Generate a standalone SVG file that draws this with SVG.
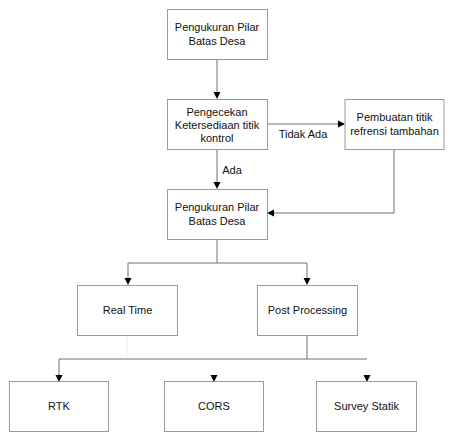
<svg xmlns="http://www.w3.org/2000/svg" width="454" height="437" viewBox="0 0 454 437">
<style>
.box{fill:#fff;stroke:#9a9a9a;stroke-width:1}
.con{fill:none;stroke:#707070;stroke-width:1}
text{font-family:"Liberation Sans",Arial,sans-serif;font-size:11px;fill:#111;text-anchor:middle}
</style>
<defs>
<path id="ah" d="M-3.5,-7 L3.5,-7 L0,0 Z" fill="#000"/>
</defs>
<rect width="454" height="437" fill="#fff"/>
<g id="connectors">
<line class="con" x1="217" y1="59" x2="217" y2="94"/>
<use href="#ah" x="217" y="99"/>
<line class="con" x1="267" y1="124" x2="340" y2="124"/>
<use href="#ah" transform="translate(345,124) rotate(-90)"/>
<text x="303" y="138">Tidak Ada</text>
<line class="con" x1="217" y1="149" x2="217" y2="184"/>
<use href="#ah" x="217" y="189"/>
<text x="232" y="174">Ada</text>
<polyline class="con" points="394,149 394,213 272,213"/>
<use href="#ah" transform="translate(267,213) rotate(90)"/>
<line class="con" x1="217" y1="239" x2="217" y2="263"/>
<polyline class="con" points="128,280 128,263 307,263 307,280"/>
<use href="#ah" x="128" y="285"/>
<use href="#ah" x="307" y="285"/>
<line x1="127" y1="335" x2="127" y2="356" stroke="#ececec" stroke-width="1"/>
<line class="con" x1="307" y1="335" x2="307" y2="359"/>
<polyline class="con" points="59,377 59,359 367,359"/>
<use href="#ah" x="59" y="382"/>
<use href="#ah" x="214" y="382"/>
<use href="#ah" x="367" y="382"/>
</g>
<g id="n1"><rect class="box" x="167.5" y="9.5" width="100" height="50"/><text x="217" y="31">Pengukuran Pilar</text><text x="217" y="45">Batas Desa</text></g>
<g id="n2"><rect class="box" x="167.5" y="99.5" width="100" height="50"/><text x="217" y="116">Pengecekan</text><text x="217" y="129">Ketersediaan titik</text><text x="217" y="142">kontrol</text></g>
<g id="n3"><rect class="box" x="345" y="99.5" width="99" height="50"/><text x="394.5" y="121">Pembuatan titik</text><text x="394.5" y="135">refrensi tambahan</text></g>
<g id="n4"><rect class="box" x="167.5" y="189.5" width="100" height="50"/><text x="217" y="211">Pengukuran Pilar</text><text x="217" y="225">Batas Desa</text></g>
<g id="n5"><rect class="box" x="77.5" y="285.5" width="100" height="50"/><text x="127.5" y="314">Real Time</text></g>
<g id="n6"><rect class="box" x="257.5" y="285.5" width="100" height="50"/><text x="307.5" y="314">Post Processing</text></g>
<g id="n7"><rect class="box" x="9.5" y="381.5" width="99" height="50"/><text x="59" y="410">RTK</text></g>
<g id="n8"><rect class="box" x="164.5" y="381.5" width="99" height="50"/><text x="214" y="410">CORS</text></g>
<g id="n9"><rect class="box" x="316.5" y="381.5" width="100" height="50"/><text x="366.5" y="410">Survey Statik</text></g>
</svg>
